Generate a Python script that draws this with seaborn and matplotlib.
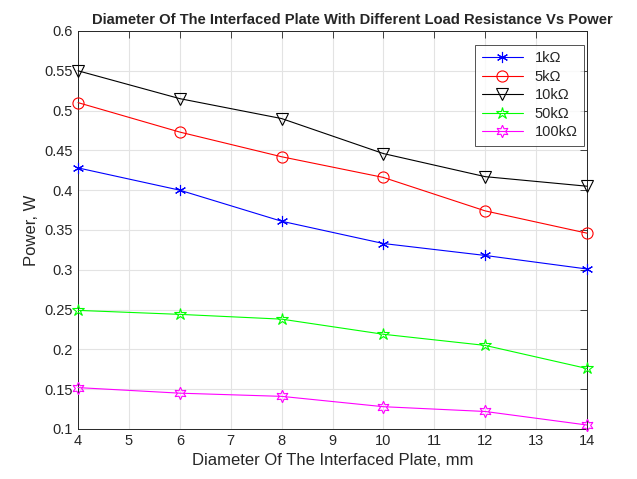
import numpy as np
import pandas as pd
import seaborn as sns
import matplotlib.pyplot as plt

# data
diameter = [4, 6, 8, 10, 12, 14]
p_1k = [0.428, 0.400, 0.361, 0.333, 0.318, 0.301]
p_5k = [0.510, 0.473, 0.442, 0.416, 0.374, 0.346]
p_10k = [0.550, 0.515, 0.490, 0.446, 0.417, 0.405]
p_50k = [0.249, 0.244, 0.238, 0.219, 0.205, 0.176]
p_100k = [0.152, 0.145, 0.141, 0.128, 0.122, 0.105]
labels = ['1k\u03a9', '5k\u03a9', '10k\u03a9', '50k\u03a9', '100k\u03a9']

series = [p_1k, p_5k, p_10k, p_50k, p_100k]
colors = ['#0000ff', '#ff0000', '#000000', '#00ff00', '#ff00ff']
markers = [(6, 2, 0), 'o', 'v', '*', (6, 1, 0)]
sizes = [8, 8, 8, 9, 9]

sns.set_style('white')
plt.rcParams['font.family'] = ['Liberation Sans', 'DejaVu Sans']

fig = plt.figure(figsize=(6.37, 4.79), dpi=100)
ax = fig.add_axes([0.1225, 0.1044, 0.799, 0.8309])

for vals, lab, c, m, s in zip(series, labels, colors, markers, sizes):
    df = pd.DataFrame({'d': diameter, 'p': vals})
    sns.lineplot(data=df, x='d', y='p', ax=ax, color=c, marker=m, markersize=s,
                 markerfacecolor='none', markeredgecolor=c, markeredgewidth=0.8,
                 linewidth=0.8, label=lab, clip_on=False, zorder=3)

ax.set_xlim(4, 14)
ax.set_ylim(0.1, 0.6)
ax.set_xticks(np.arange(4, 15, 1))
yt = np.round(np.arange(0.1, 0.601, 0.05), 2)
ax.set_yticks(yt)
ax.set_yticklabels([f'{v:g}' for v in yt])
ax.grid(True, color='#e3e3e3', linewidth=0.8)
ax.tick_params(direction='in', top=True, right=True, labelsize=10.5,
               length=5, width=0.6, colors='#262626')
for sp in ax.spines.values():
    sp.set_color('#262626')
    sp.set_linewidth(0.7)

ax.set_xlabel('Diameter Of The Interfaced Plate, mm', fontsize=12, color='#262626')
ax.set_ylabel('Power, W', fontsize=12, color='#262626')
ax.set_title('Diameter Of The Interfaced Plate With Different Load Resistance Vs Power',
             fontsize=10.6, fontweight='bold', pad=5, x=0.54)

leg = ax.legend(loc='upper right', bbox_to_anchor=(0.994, 0.965), borderaxespad=0,
                fontsize=10.5, frameon=True, fancybox=False, edgecolor='#262626',
                handlelength=2.8, borderpad=0.45, labelspacing=0.3)
leg.get_frame().set_linewidth(0.7)

fig.savefig('out.png', dpi=100)
